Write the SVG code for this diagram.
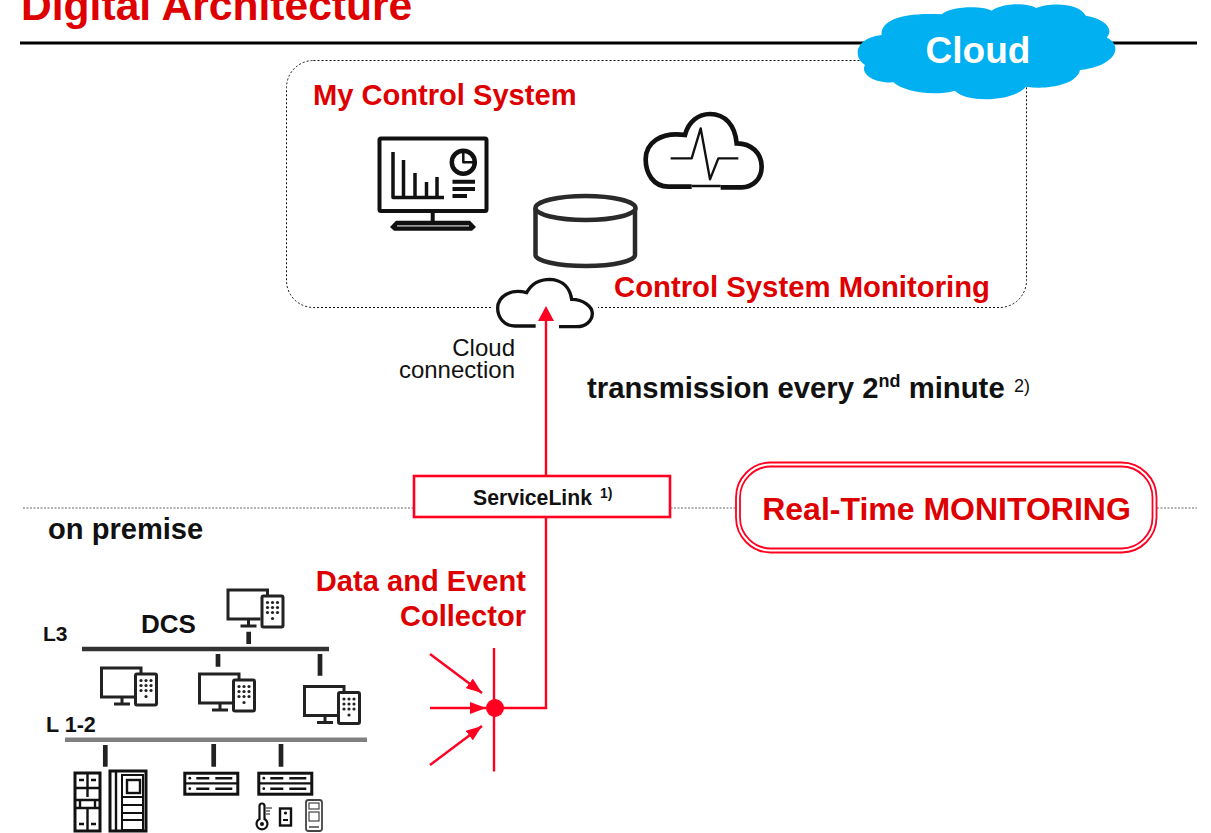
<svg xmlns="http://www.w3.org/2000/svg" width="1211" height="833" viewBox="0 0 1211 833">
<style>
text{font-family:"Liberation Sans",Arial,sans-serif}
.b{font-weight:700}
.r{fill:#DE0000;font-weight:700}
.k{fill:none;stroke:#111;stroke-width:3.500;stroke-linejoin:round}
.stub{stroke:#222;stroke-width:4.700;fill:none}
.red{stroke:#FF0020;stroke-width:2.400;fill:none}
</style>
<defs>
<marker id="ah" markerUnits="userSpaceOnUse" markerWidth="16" markerHeight="12" refX="16" refY="6" orient="auto"><path d="M0,0L16,6L0,12Z" fill="#FF0020"/></marker>
<g id="ws">
<path d="M34,30.500H1.500V1.500H41V7" fill="none" stroke="#222" stroke-width="3"/>
<path d="M22,30V37M14,37.500H30" fill="none" stroke="#222" stroke-width="3"/>
<rect x="35.500" y="7.500" width="21" height="31" rx="1.500" fill="#fff" stroke="#222" stroke-width="3"/>
<g fill="#222"><circle cx="41" cy="14" r="1.600"/><circle cx="46" cy="14" r="1.600"/><circle cx="51" cy="14" r="1.600"/><circle cx="41" cy="19" r="1.600"/><circle cx="46" cy="19" r="1.600"/><circle cx="51" cy="19" r="1.600"/><circle cx="41" cy="24" r="1.600"/><circle cx="46" cy="24" r="1.600"/><circle cx="51" cy="24" r="1.600"/><circle cx="46" cy="30" r="1.600"/></g>
</g>
<g id="rack">
<rect x="1.500" y="1.500" width="53" height="21" fill="#fff" stroke="#111" stroke-width="3"/>
<path d="M1,11.700H55" stroke="#111" stroke-width="2.400"/>
<path d="M13,6.500H26M32,6.500H49M13,17H26M32,17H49" stroke="#111" stroke-width="2.600"/>
<circle cx="6.500" cy="6.500" r="1.400" fill="#111"/><circle cx="6.500" cy="17" r="1.400" fill="#111"/>
</g>
</defs>

<rect width="1211" height="833" fill="#fff"/>

<g id="header">
<text x="21" y="20" class="r" font-size="42.600">Digital Architecture</text>
<path d="M20,43H1197" stroke="#000" stroke-width="3"/>
</g>

<g id="divider"><path d="M23,508H1197" stroke="#666" stroke-width="1.200" stroke-dasharray="2 1.500"/></g>

<g id="my-control-system">
<rect x="286.500" y="60.500" width="740" height="247" rx="27" fill="none" stroke="#111" stroke-dasharray="2 2"/>
<text x="313" y="105" class="r" font-size="29.100">My Control System</text>
</g>

<g id="cloud-badge">
<path transform="translate(840 0) scale(.33333)" fill="#00B0F0" d="M125,105C120,65 180,35 305,43C330,20 420,15 455,32C490,8 560,8 588,24C640,5 720,12 737,47C790,55 825,85 800,113C845,130 840,195 720,210C710,255 620,270 558,260C520,305 380,310 345,272C280,290 190,275 160,247C100,250 60,220 75,195C40,175 40,115 125,105Z"/>
<text x="978" y="63" text-anchor="middle" class="b" font-size="37" fill="#fff">Cloud</text>
</g>

<g id="dashboard-icon">
<rect x="379.500" y="138.500" width="107" height="72.500" rx="1.500" class="k" style="stroke-width:4"/>
<path d="M393,152V197.500H444M403.500,160V197M415,173V197M426.500,182V197M437,177V197" class="k"/>
<circle cx="463.300" cy="162.300" r="11.500" class="k" style="stroke-width:4.500"/>
<path d="M463.300,153V162.300H473" class="k" style="stroke-width:2.500"/>
<path d="M452.500,181.700H475M452.500,189H475M452.500,196H467" class="k" style="stroke-width:4"/>
<path d="M432.700,212V221" class="k" style="stroke-width:4"/>
<path d="M396,220.700H470L476,227L472,230.700H394L390,227Z" fill="#111"/>
<path d="M397,225.800H469" stroke="#999" stroke-width="1.800"/>
</g>

<g id="monitoring-cloud-icon">
<path transform="translate(360 100) scale(.33333)" fill="none" stroke="#111" stroke-width="14" d="M995,260L925,260C880,260 857,220 857,178C857,130 900,95 975,105C985,65 1015,42 1050,42C1095,42 1125,75 1130,130C1175,130 1205,160 1205,200C1205,240 1175,262 1145,262L1082,262"/>
<path transform="translate(360 100) scale(.33333)" fill="none" stroke="#111" stroke-width="7" stroke-linejoin="round" d="M932,175L995,175L1022,85L1050,238L1075,175L1135,175M995,258H1082"/>
</g>

<g id="database-icon">
<path d="M535.500,208V255C535.500,261 558,266 586,266C613,266 635,261 635,255V208" fill="#fff" stroke="#2a2a2a" stroke-width="4.500"/>
<ellipse cx="585.500" cy="208" rx="50" ry="12" fill="#fff" stroke="#2a2a2a" stroke-width="4.500"/>
</g>

<g id="cloud-connection">
<rect x="492" y="300" width="106" height="16" fill="#fff"/>
<path transform="translate(360 100) scale(.33333)" fill="#fff" stroke="#111" stroke-width="10" d="M527,678L465,678C430,678 413,650 413,625C413,590 450,565 500,578C515,550 540,538 570,538C610,540 630,565 635,598C670,598 697,620 697,640C697,665 675,680 650,680L597,680"/>
<text x="515" y="356" text-anchor="end" font-size="24" fill="#111">Cloud</text>
<text x="515" y="378" text-anchor="end" font-size="24" fill="#111">connection</text>
</g>

<g id="control-system-monitoring-label">
<text x="614" y="297" class="r" font-size="29.300">Control System Monitoring</text>
</g>

<g id="transmission-label">
<text x="587" y="398" class="b" font-size="29.300" fill="#111">transmission every 2<tspan font-size="18" dy="-11">nd</tspan><tspan dy="11"> minute</tspan><tspan x="1014" font-size="18" font-weight="400" dy="-6">2)</tspan></text>
</g>

<g id="connectors">
<path class="red" d="M546,476V320"/>
<path d="M546,306L554,321H538Z" fill="#FF0020"/>
<path class="red" d="M495,708H546V517"/>
<path class="red" d="M494,648V771.500"/>
<path class="red" d="M430,654L482,693" marker-end="url(#ah)"/>
<path class="red" d="M430,708L486,708" marker-end="url(#ah)"/>
<path class="red" d="M430,765L482,726" marker-end="url(#ah)"/>
<path d="M82,649H329" stroke="#333" stroke-width="4.700"/>
<path d="M65,739.700H367" stroke="#808080" stroke-width="4.500"/>
<path class="stub" d="M248.700,631.700V644M218,654V666.700M320,654V675.700M105.300,745V766.700M213.700,744V766.700M281,744V766.700"/>
</g>

<g id="collector">
<circle cx="495" cy="708" r="9" fill="#FF0020"/>
<text x="526" y="591" text-anchor="end" class="r" font-size="29.100">Data and Event</text>
<text x="526" y="626" text-anchor="end" class="r" font-size="29.100">Collector</text>
</g>

<g id="servicelink">
<rect x="414" y="476" width="256" height="41" fill="#fff" stroke="#FF0020" stroke-width="2.600"/>
<text x="473" y="505" class="b" font-size="21.200" fill="#111">ServiceLink <tspan x="600" font-size="14" dy="-7">1)</tspan></text>
</g>

<g id="real-time-monitoring">
<rect x="736" y="462.500" width="420.500" height="90" rx="35" fill="#fff" stroke="#FF0020" stroke-width="1.800"/>
<rect x="740" y="466.500" width="412.500" height="82" rx="31" fill="#fff" stroke="#FF0020" stroke-width="1.800"/>
<text x="946.500" y="520" text-anchor="middle" class="r" font-size="32">Real-Time MONITORING</text>
</g>

<g id="on-premise-label"><text x="48" y="539" class="b" font-size="29.100" fill="#111">on premise</text></g>
<g id="l3-label"><text x="43" y="641" class="b" font-size="21" fill="#111">L3</text></g>
<g id="l12-label"><text x="46" y="732" class="b" font-size="21.500" fill="#111">L 1-2</text></g>
<g id="dcs-label"><text x="141" y="633" class="b" font-size="26" fill="#111">DCS</text></g>

<g id="workstation-1"><use href="#ws" x="226.500" y="588.500"/></g>
<g id="workstation-2"><use href="#ws" x="100" y="666.500"/></g>
<g id="workstation-3"><use href="#ws" x="198" y="672.500"/></g>
<g id="workstation-4"><use href="#ws" x="303" y="685"/></g>

<g id="cabinets">
<rect x="75" y="773" width="25" height="58" fill="#fff" stroke="#111" stroke-width="3"/>
<path d="M87.500,773V797M87.500,808V831M75,788H100M75,800H100M75,808H100M80,800V808M95,800V808M79,780H84M91,780H96M79,824H84M91,824H96" fill="none" stroke="#111" stroke-width="2.400"/>
<rect x="110" y="771" width="36" height="60" fill="#fff" stroke="#111" stroke-width="3"/>
<path d="M116,771V831" fill="none" stroke="#111" stroke-width="2.400"/>
<rect x="127" y="780" width="13" height="13" fill="none" stroke="#111" stroke-width="2.400"/>
<path d="M122,775H143V830H122ZM122,797H143M122,805H143M122,813H143M122,820H143" fill="none" stroke="#111" stroke-width="2"/>
</g>
<g id="rack-1"><use href="#rack" x="183.300" y="771.700"/></g>
<g id="rack-2"><use href="#rack" x="257.300" y="771.700"/></g>
<g id="field-devices">
<path d="M259.500,806a2.500,2.500 0 0 1 5,0V819a5.500,5.500 0 1 1 -5,0Z" fill="none" stroke="#111" stroke-width="2.200"/>
<circle cx="262" cy="824" r="2" fill="#111"/>
<path d="M266,808H272M266,811H270M266,814H270" stroke="#111" stroke-width="1"/>
<rect x="280" y="808.500" width="11" height="17" fill="none" stroke="#111" stroke-width="2.400"/>
<circle cx="285.500" cy="813" r="1.600" fill="#111"/><path d="M283,820H288" stroke="#111" stroke-width="2"/>
<rect x="306" y="800" width="16" height="31" rx="2.500" fill="none" stroke="#444" stroke-width="1.800"/>
<rect x="309" y="803" width="10" height="6" fill="none" stroke="#444" stroke-width="1.200"/>
<rect x="309" y="812" width="10" height="9" fill="none" stroke="#444" stroke-width="1.200"/>
<path d="M309,827H319" stroke="#444" stroke-width="1.500"/>
</g>
</svg>
